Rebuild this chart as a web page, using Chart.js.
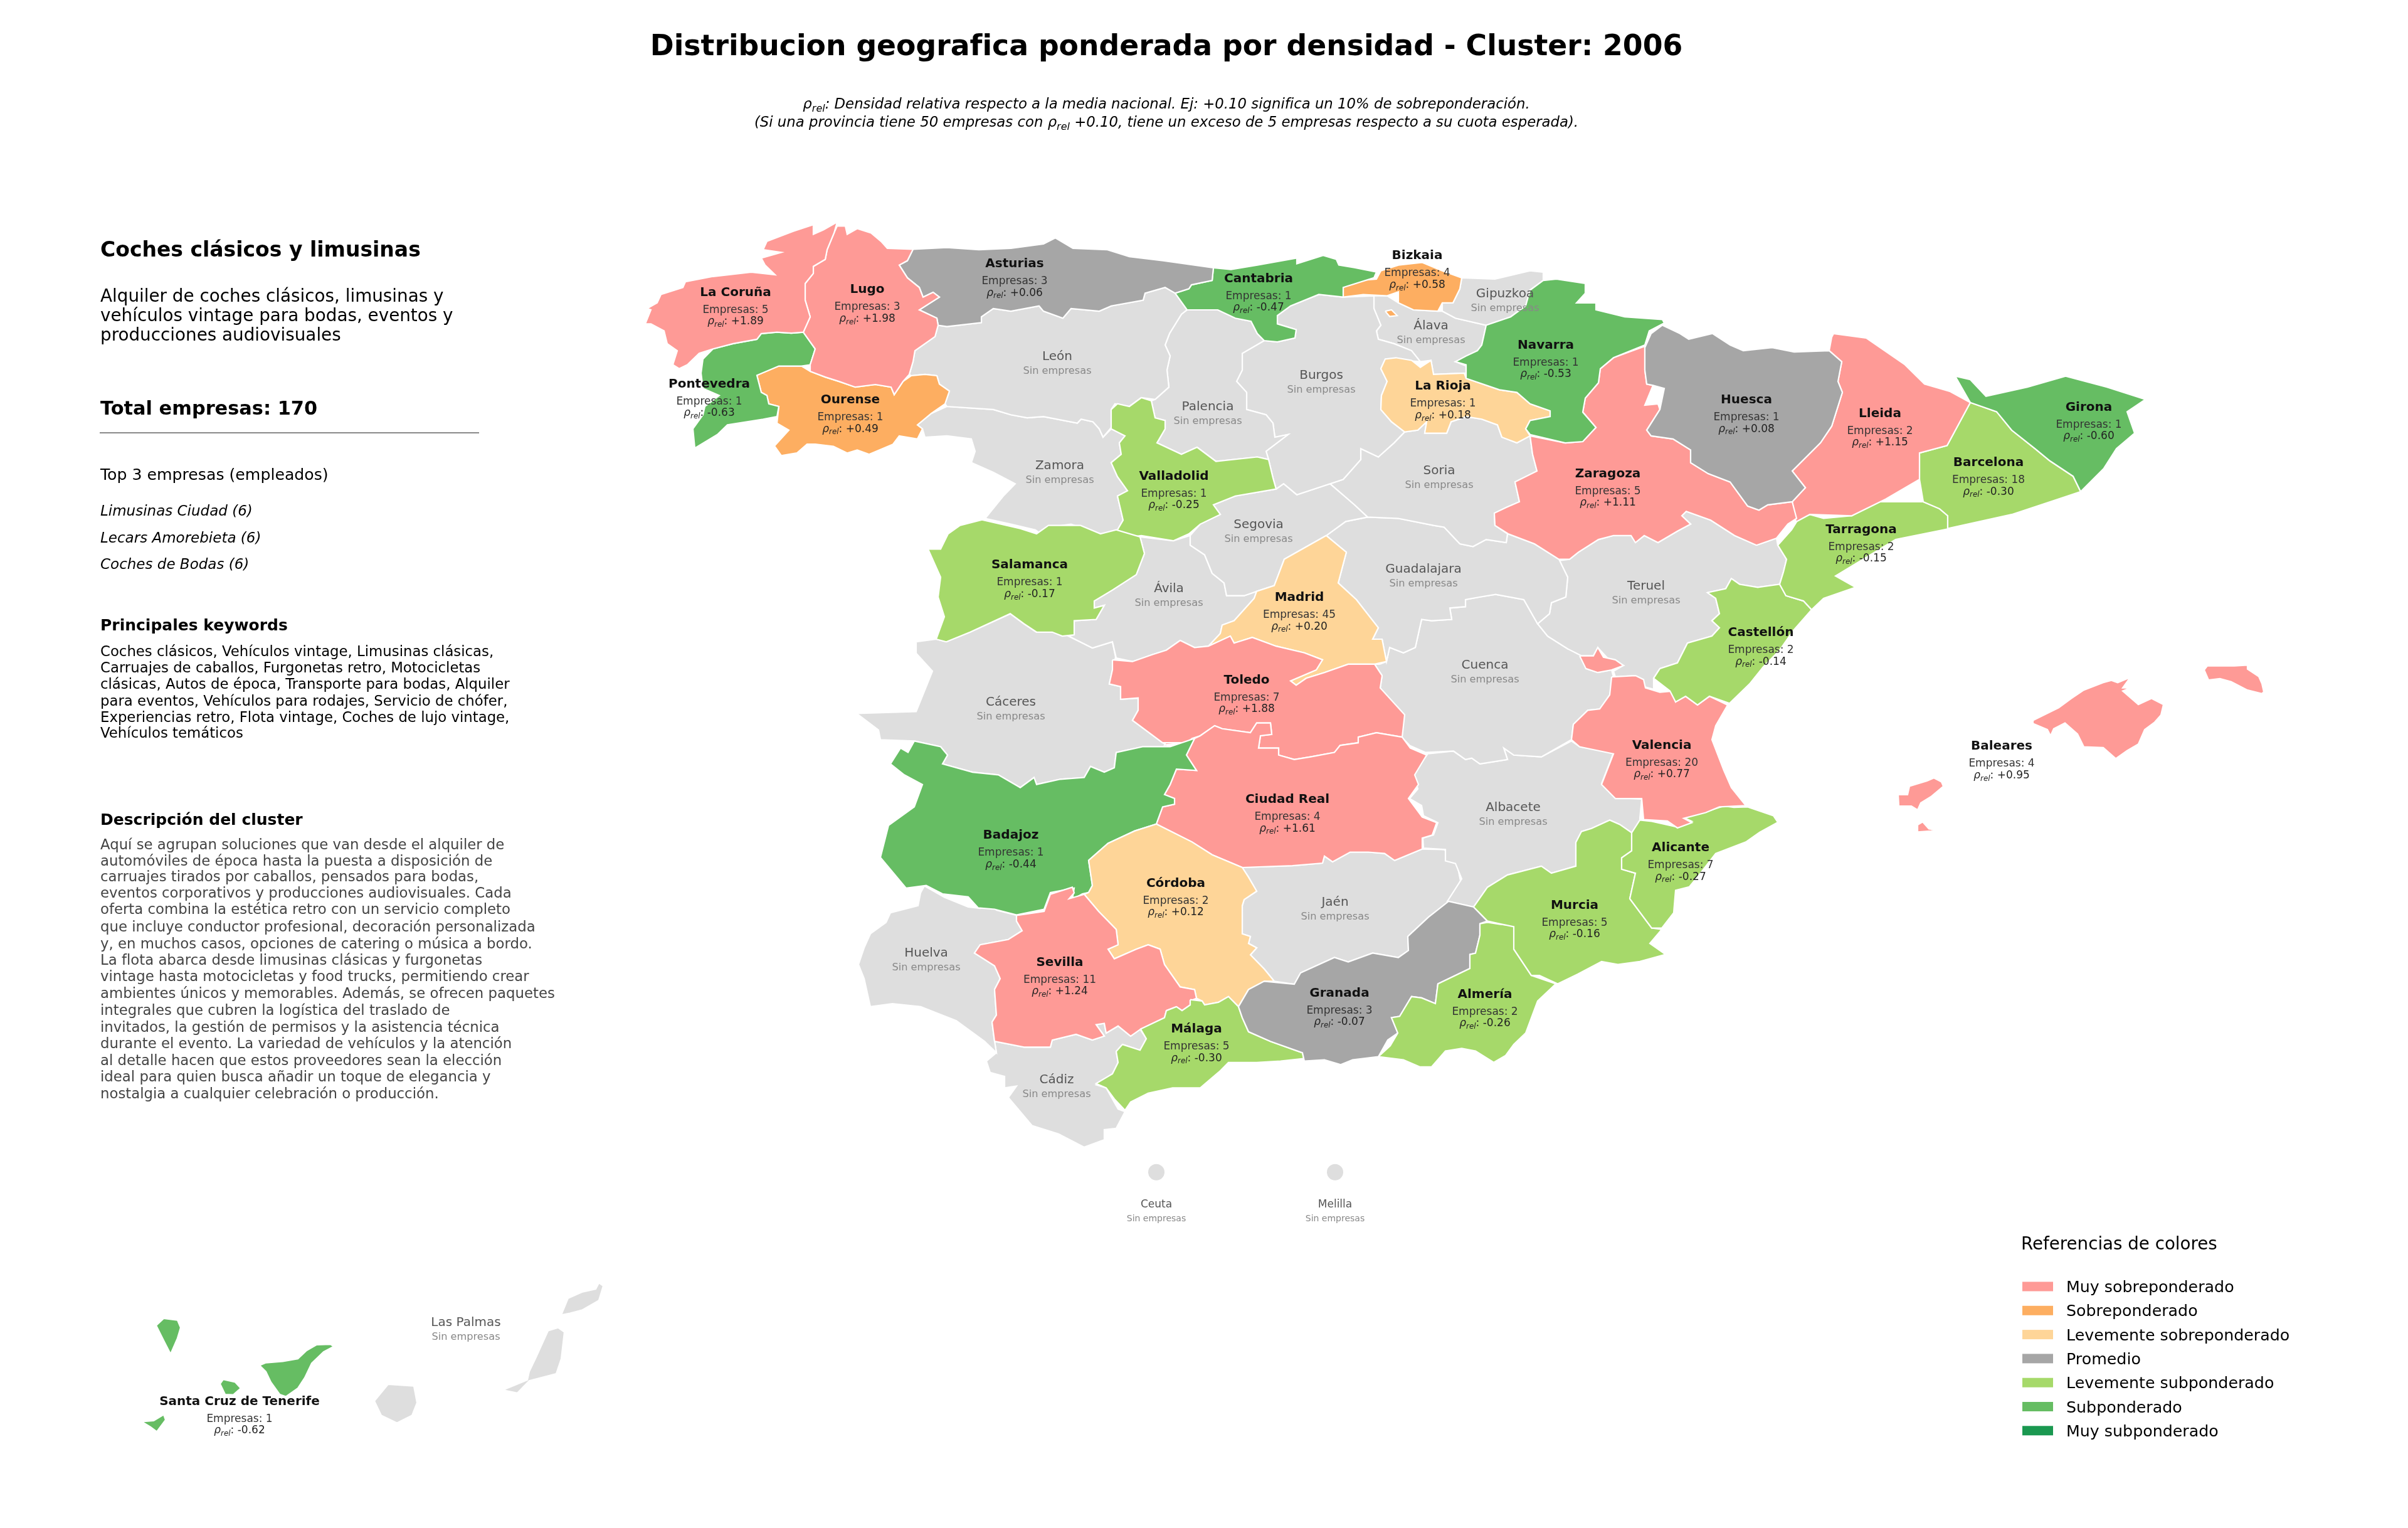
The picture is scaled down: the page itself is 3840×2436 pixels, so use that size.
<!DOCTYPE html>
<html lang="es">
<head>
<meta charset="utf-8">
<title>Distribucion geografica - Cluster 2006</title>
<script src="https://cdn.jsdelivr.net/npm/chart.js@4/dist/chart.umd.js"></script>
<style>
  html, body { margin: 0; padding: 0; background: #fff; }
  #wrap { width: 3840px; height: 2436px; }
</style>
</head>
<body>
<div id="wrap"><canvas id="map" width="3840" height="2436"></canvas></div>
<script>
// ── categories ──────────────────────────────────────────
const provinces = ["La Coruña","Lugo","Pontevedra","Ourense","Asturias","Cantabria","Bizkaia","Navarra","La Rioja","Huesca","Zaragoza","Lleida","Girona","Barcelona","Tarragona","Castellón","Valencia","Alicante","Murcia","Almería","Granada","Málaga","Sevilla","Córdoba","Badajoz","Ciudad Real","Toledo","Madrid","Salamanca","Valladolid","Baleares","Santa Cruz de Tenerife"];
const empresas  = [5,3,1,1,3,1,4,1,1,1,5,2,1,18,2,2,20,7,5,2,3,5,11,2,1,4,7,45,1,1,4,1];
const rhoRel    = ["+1.89","+1.98","-0.63","+0.49","+0.06","-0.47","+0.58","-0.53","+0.18","+0.08","+1.11","+1.15","-0.60","-0.30","-0.15","-0.14","+0.77","-0.27","-0.16","-0.26","-0.07","-0.30","+1.24","+0.12","-0.44","+1.61","+1.88","+0.20","-0.17","-0.25","+0.95","-0.62"];
const levels    = [0,0,5,1,3,5,1,5,2,3,0,0,5,4,4,4,0,4,4,4,3,4,0,2,5,0,0,2,4,4,0,5];
const emptyProvinces = ["León","Palencia","Zamora","Burgos","Soria","Gipuzkoa","Álava","Segovia","Ávila","Guadalajara","Teruel","Cuenca","Cáceres","Albacete","Jaén","Huelva","Cádiz","Las Palmas","Ceuta","Melilla"];

const legendLabels = ["Muy sobreponderado","Sobreponderado","Levemente sobreponderado","Promedio","Levemente subponderado","Subponderado","Muy subponderado"];
const legendColors = ["#fe9a96","#fdae61","#fed598","#a6a6a6","#a6d96a","#66bd63","#1a9850"];
const EMPTY_COLOR  = "#dedede";

// ── outlines, in map units ──────────────────────────────
const laCoruna = [[1335,360],[1330,385],[1319,423],[1316,445],[1297,461],[1297,477],[1284,500],[1284,538],[1292,576],[1281,611],[1262,613],[1239,611],[1214,614],[1207,627],[1169,637],[1137,649],[1115,659],[1096,685],[1083,694],[1073,685],[1080,653],[1064,637],[1059,608],[1038,592],[1029,592],[1038,560],[1032,557],[1048,544],[1054,525],[1089,509],[1093,496],[1137,484],[1198,474],[1236,480],[1220,458],[1214,442],[1246,429],[1217,423],[1223,404],[1265,381],[1297,366],[1297,388],[1313,378]];
const lugo = [[1335,369],[1330,385],[1319,423],[1316,445],[1297,461],[1297,477],[1284,500],[1284,538],[1292,576],[1281,611],[1300,649],[1292,685],[1292,700],[1316,713],[1338,723],[1364,736],[1396,730],[1421,736],[1426,753],[1440,723],[1450,707],[1456,678],[1459,653],[1491,621],[1496,595],[1494,579],[1466,560],[1498,531],[1488,520],[1472,531],[1466,509],[1447,487],[1434,458],[1447,448],[1456,422],[1415,420],[1405,404],[1389,385],[1367,375],[1351,388],[1348,369]];
const pontevedra = [[1281,611],[1300,649],[1292,685],[1278,688],[1242,688],[1207,709],[1214,748],[1223,755],[1226,774],[1242,780],[1239,803],[1217,809],[1160,822],[1144,844],[1108,875],[1105,831],[1121,799],[1124,780],[1147,755],[1121,739],[1118,704],[1121,672],[1137,649],[1169,637],[1207,627],[1214,614],[1239,611],[1262,613]];
const ourense = [[1207,709],[1242,688],[1278,688],[1292,700],[1316,713],[1338,723],[1364,736],[1396,730],[1421,736],[1426,753],[1440,723],[1453,710],[1475,707],[1494,710],[1498,729],[1514,745],[1507,774],[1485,796],[1463,822],[1471,831],[1463,854],[1434,847],[1424,866],[1386,889],[1367,879],[1351,886],[1329,871],[1300,866],[1287,866],[1271,886],[1246,892],[1235,870],[1258,834],[1239,818],[1242,780],[1226,774],[1223,755],[1214,748]];
const asturias = [[1456,422],[1510,418],[1561,423],[1612,420],[1664,410],[1683,396],[1711,420],[1766,423],[1801,439],[1855,448],[1935,464],[1933,493],[1900,503],[1896,512],[1874,522],[1858,509],[1826,522],[1823,538],[1772,551],[1753,563],[1708,557],[1695,579],[1664,563],[1657,551],[1612,563],[1584,557],[1565,576],[1565,589],[1510,598],[1496,595],[1494,579],[1466,560],[1498,531],[1488,520],[1472,531],[1466,509],[1447,487],[1434,458],[1447,448]];
const cantabria = [[1935,464],[1933,493],[1900,503],[1896,512],[1874,522],[1893,560],[1942,560],[1970,579],[1995,586],[2005,614],[2016,630],[2037,633],[2065,624],[2067,605],[2051,598],[2037,592],[2037,573],[2058,551],[2103,525],[2142,531],[2142,509],[2191,487],[2195,474],[2160,464],[2135,458],[2131,445],[2110,436],[2068,455],[2068,442],[2005,458],[1963,468]];
const bizkaia = [[2142,509],[2142,531],[2174,525],[2212,528],[2230,519],[2230,544],[2254,560],[2293,563],[2300,544],[2317,544],[2328,512],[2331,487],[2300,471],[2268,452],[2230,458],[2202,471],[2195,490],[2167,493]];
const bizkaiaEnclave = [[2209,563],[2219,560],[2228,573],[2216,575]];
const navarra = [[2461,493],[2482,490],[2528,500],[2528,522],[2514,544],[2545,544],[2545,560],[2591,576],[2651,582],[2654,590],[2630,608],[2623,640],[2573,669],[2552,694],[2549,726],[2528,761],[2524,793],[2545,828],[2524,860],[2496,863],[2440,844],[2433,831],[2440,812],[2472,803],[2472,790],[2440,774],[2419,748],[2391,742],[2338,716],[2338,704],[2338,685],[2321,678],[2338,665],[2356,653],[2363,640],[2370,595],[2409,576],[2433,551],[2440,515]];
const laRioja = [[2209,672],[2226,669],[2251,675],[2265,691],[2282,675],[2286,707],[2335,704],[2338,716],[2391,742],[2419,748],[2440,774],[2472,790],[2472,803],[2440,812],[2433,831],[2440,847],[2419,863],[2395,850],[2388,822],[2363,809],[2338,803],[2314,815],[2307,841],[2272,841],[2275,815],[2261,834],[2240,838],[2219,815],[2202,787],[2203,755],[2212,723],[2202,694]];
const huesca = [[2651,595],[2679,614],[2693,627],[2731,614],[2759,640],[2780,653],[2826,646],[2861,656],[2917,653],[2937,678],[2931,723],[2938,748],[2921,825],[2903,863],[2858,927],[2879,965],[2858,997],[2819,1004],[2805,1016],[2787,1007],[2759,952],[2724,933],[2696,908],[2696,879],[2668,854],[2633,847],[2626,834],[2647,787],[2654,739],[2636,732],[2626,729],[2623,697],[2623,646],[2633,614]];
const zaragoza = [[2623,643],[2623,697],[2626,729],[2636,732],[2623,777],[2644,774],[2647,787],[2626,834],[2633,847],[2668,854],[2696,879],[2696,908],[2724,933],[2759,952],[2787,1007],[2805,1016],[2819,1004],[2858,997],[2865,1035],[2851,1048],[2833,1080],[2801,1096],[2766,1074],[2728,1039],[2689,1019],[2682,1029],[2696,1048],[2675,1064],[2644,1090],[2622,1074],[2608,1090],[2601,1074],[2573,1074],[2549,1083],[2517,1112],[2503,1128],[2486,1128],[2447,1093],[2405,1070],[2384,1051],[2383,1023],[2402,1010],[2423,997],[2416,952],[2451,927],[2444,889],[2440,847],[2496,863],[2524,860],[2545,828],[2524,793],[2528,761],[2549,726],[2552,694],[2573,669]];
const lleida = [[2924,614],[2976,624],[3037,684],[3069,729],[3110,746],[3142,771],[3105,869],[3061,886],[3061,946],[3007,991],[2953,1029],[2886,1026],[2864,1043],[2858,997],[2879,965],[2858,927],[2903,863],[2921,825],[2938,748],[2931,723],[2937,678],[2917,653],[2921,622]];
const girona = [[3118,711],[3142,719],[3167,757],[3233,736],[3294,711],[3360,736],[3421,764],[3392,792],[3404,841],[3375,876],[3355,921],[3318,974],[3306,939],[3269,904],[3245,876],[3208,834],[3184,792],[3142,771]];
const barcelona = [[3142,771],[3184,792],[3208,834],[3245,876],[3269,904],[3306,939],[3318,974],[3282,991],[3208,1026],[3106,1058],[3106,1029],[3093,1013],[3067,997],[3061,946],[3061,886],[3105,869]];
const tarragona = [[2991,997],[3067,997],[3093,1013],[3106,1029],[3106,1059],[3023,1083],[2956,1141],[2927,1166],[2943,1179],[2959,1192],[2908,1217],[2889,1243],[2876,1223],[2848,1211],[2838,1185],[2844,1157],[2849,1128],[2835,1096],[2857,1061],[2867,1038],[2886,1026],[2908,1035],[2953,1029]];
const castellon = [[2761,1172],[2774,1185],[2803,1192],[2838,1185],[2848,1211],[2876,1223],[2889,1243],[2860,1290],[2838,1335],[2812,1373],[2790,1412],[2758,1456],[2726,1440],[2707,1460],[2688,1440],[2672,1453],[2663,1428],[2637,1399],[2647,1377],[2675,1364],[2691,1319],[2730,1303],[2742,1284],[2730,1268],[2742,1252],[2736,1217],[2723,1204],[2752,1195]];
const valencia = [[2570,1396],[2608,1393],[2621,1402],[2624,1421],[2647,1431],[2669,1428],[2672,1453],[2688,1440],[2707,1460],[2726,1440],[2755,1460],[2736,1507],[2730,1539],[2749,1609],[2761,1648],[2784,1689],[2742,1692],[2720,1705],[2685,1718],[2698,1728],[2675,1740],[2659,1724],[2621,1721],[2618,1673],[2576,1673],[2554,1641],[2573,1571],[2519,1555],[2506,1539],[2509,1504],[2532,1472],[2551,1469],[2567,1437]];
const valenciaAdemuz = [[2519,1348],[2541,1348],[2548,1329],[2557,1351],[2576,1357],[2589,1370],[2570,1380],[2548,1386],[2529,1377]];
const alicante = [[2787,1692],[2828,1712],[2835,1727],[2806,1750],[2784,1772],[2736,1798],[2710,1846],[2694,1874],[2672,1882],[2669,1933],[2650,1968],[2634,1968],[2599,1901],[2608,1843],[2586,1834],[2586,1808],[2602,1792],[2602,1751],[2615,1722],[2634,1725],[2675,1738],[2698,1725],[2685,1716],[2720,1703],[2749,1690],[2765,1693]];
const murcia = [[2350,1920],[2372,1875],[2404,1847],[2458,1827],[2474,1843],[2513,1827],[2513,1773],[2522,1748],[2538,1741],[2567,1722],[2583,1732],[2602,1751],[2602,1792],[2586,1808],[2586,1834],[2608,1843],[2599,1901],[2634,1968],[2650,1971],[2631,2003],[2656,2028],[2615,2044],[2580,2051],[2554,2044],[2516,2073],[2484,2095],[2455,2076],[2442,2076],[2414,2016],[2414,1965],[2391,1958],[2372,1952]];
const almeria = [[2360,1958],[2372,1955],[2391,1959],[2417,1963],[2414,2016],[2442,2076],[2481,2095],[2452,2134],[2433,2207],[2414,2233],[2401,2258],[2382,2274],[2353,2248],[2331,2242],[2305,2248],[2283,2284],[2264,2284],[2238,2268],[2198,2261],[2217,2236],[2229,2207],[2219,2172],[2232,2169],[2251,2124],[2267,2127],[2289,2140],[2293,2095],[2344,2060],[2344,2028],[2353,2025],[2360,1984]];
const granada = [[1975,2147],[1991,2108],[2016,2089],[2064,2096],[2074,2070],[2128,2035],[2150,2045],[2189,2025],[2230,2035],[2246,2019],[2245,1987],[2278,1943],[2310,1907],[2350,1920],[2372,1952],[2360,1958],[2360,1984],[2353,2025],[2344,2028],[2344,2060],[2293,2095],[2289,2140],[2267,2127],[2251,2124],[2232,2169],[2219,2172],[2229,2207],[2213,2223],[2198,2261],[2157,2268],[2138,2279],[2112,2268],[2080,2271],[2077,2252],[2026,2226],[1991,2204],[1981,2172]];
const malaga = [[1898,2131],[1917,2134],[1921,2143],[1943,2137],[1959,2124],[1975,2147],[1981,2172],[1991,2204],[2026,2226],[2077,2252],[2079,2265],[2042,2271],[2004,2274],[1959,2274],[1946,2293],[1914,2332],[1870,2332],[1831,2344],[1803,2364],[1794,2383],[1777,2357],[1764,2332],[1748,2322],[1774,2300],[1783,2274],[1780,2249],[1790,2233],[1818,2246],[1828,2220],[1819,2198],[1857,2172],[1860,2156],[1876,2147],[1885,2156],[1898,2143]];
const sevilla = [[1621,1939],[1665,1930],[1675,1891],[1710,1875],[1713,1888],[1705,1901],[1729,1891],[1752,1930],[1780,1971],[1783,2006],[1767,2016],[1777,2038],[1812,2016],[1831,2006],[1850,2016],[1857,2051],[1882,2102],[1905,2108],[1908,2128],[1898,2134],[1898,2143],[1885,2156],[1876,2147],[1860,2156],[1857,2172],[1819,2198],[1803,2214],[1783,2191],[1764,2207],[1761,2185],[1748,2188],[1761,2214],[1742,2223],[1716,2210],[1678,2223],[1675,2239],[1633,2239],[1586,2226],[1582,2182],[1589,2166],[1586,2108],[1595,2083],[1586,2054],[1554,2025],[1563,2006],[1608,1994],[1630,1974],[1621,1952]];
const cordoba = [[1809,1747],[1844,1731],[1901,1772],[1933,1801],[1981,1830],[1991,1852],[2004,1884],[1984,1903],[1981,1917],[1981,1981],[1994,1987],[1991,2003],[2004,2013],[1994,2029],[2016,2061],[2032,2089],[2016,2089],[1991,2108],[1975,2147],[1959,2124],[1943,2137],[1921,2143],[1917,2134],[1908,2128],[1905,2108],[1882,2102],[1857,2051],[1850,2016],[1831,2006],[1812,2016],[1777,2038],[1767,2016],[1783,2006],[1780,1971],[1752,1930],[1729,1891],[1736,1887],[1742,1871],[1736,1814],[1767,1775]];
const badajoz = [[1458,1542],[1500,1555],[1511,1574],[1503,1594],[1551,1613],[1592,1619],[1627,1648],[1649,1625],[1653,1641],[1691,1629],[1729,1625],[1739,1600],[1761,1613],[1777,1603],[1780,1568],[1822,1555],[1866,1555],[1905,1536],[1892,1574],[1908,1609],[1876,1606],[1866,1641],[1857,1664],[1873,1673],[1873,1686],[1854,1692],[1844,1731],[1809,1747],[1767,1775],[1736,1814],[1742,1871],[1736,1887],[1726,1890],[1710,1903],[1713,1877],[1675,1887],[1665,1925],[1621,1938],[1586,1925],[1560,1922],[1544,1897],[1503,1890],[1477,1871],[1445,1877],[1404,1807],[1417,1734],[1458,1692],[1471,1641],[1442,1619],[1420,1594],[1436,1558],[1448,1568]];
const ciudadReal = [[1905,1536],[1914,1530],[1937,1507],[1949,1514],[1994,1523],[2004,1501],[2026,1501],[2028,1527],[2010,1530],[2007,1558],[2039,1558],[2039,1574],[2064,1584],[2090,1578],[2128,1568],[2137,1552],[2166,1546],[2166,1533],[2195,1523],[2236,1533],[2249,1558],[2275,1574],[2256,1619],[2262,1641],[2246,1673],[2268,1715],[2291,1728],[2284,1756],[2268,1763],[2268,1788],[2224,1814],[2208,1798],[2182,1795],[2153,1795],[2125,1817],[2112,1804],[2109,1820],[2061,1826],[1981,1830],[1933,1801],[1901,1772],[1844,1731],[1854,1692],[1873,1686],[1873,1673],[1857,1664],[1866,1641],[1876,1606],[1908,1609],[1892,1574]];
const toledo = [[1774,1357],[1806,1361],[1838,1345],[1860,1335],[1882,1313],[1905,1329],[1927,1326],[1962,1303],[1968,1319],[1997,1306],[2035,1326],[2080,1341],[2109,1357],[2099,1380],[2058,1405],[2067,1415],[2083,1399],[2112,1386],[2150,1367],[2192,1367],[2204,1393],[2201,1421],[2240,1482],[2236,1533],[2195,1523],[2166,1533],[2166,1546],[2137,1552],[2128,1568],[2090,1578],[2064,1584],[2039,1574],[2039,1558],[2007,1558],[2010,1530],[2028,1527],[2026,1501],[2004,1501],[1994,1523],[1949,1514],[1937,1507],[1914,1530],[1901,1536],[1892,1546],[1854,1546],[1806,1495],[1815,1472],[1815,1444],[1787,1447],[1787,1418],[1769,1412],[1774,1380]];
const toledoEnclave = [[1870,1507],[1892,1520],[1889,1546],[1857,1551]];
const madrid = [[2115,1074],[2147,1112],[2134,1182],[2163,1220],[2198,1284],[2189,1310],[2204,1310],[2211,1361],[2192,1367],[2150,1367],[2112,1386],[2083,1399],[2067,1415],[2058,1405],[2099,1380],[2109,1357],[2080,1341],[2035,1326],[1997,1306],[1968,1319],[1962,1303],[1927,1326],[1946,1297],[1949,1278],[1968,1268],[2000,1217],[2004,1201],[2032,1188],[2048,1128]];
const salamanca = [[1566,1038],[1627,1058],[1653,1070],[1672,1051],[1723,1051],[1755,1070],[1780,1061],[1818,1077],[1825,1115],[1812,1163],[1774,1198],[1745,1223],[1745,1239],[1761,1233],[1748,1265],[1713,1268],[1713,1300],[1694,1303],[1678,1294],[1653,1294],[1633,1275],[1611,1252],[1547,1294],[1509,1316],[1493,1310],[1506,1259],[1496,1214],[1500,1169],[1480,1105],[1500,1105],[1512,1070],[1531,1051]];
const valladolid = [[1772,787],[1782,774],[1801,780],[1820,760],[1836,767],[1842,806],[1858,812],[1858,831],[1845,863],[1884,889],[1909,873],[1939,905],[2005,895],[2023,901],[2030,943],[2035,968],[1970,984],[1935,1004],[1946,1026],[1914,1048],[1896,1070],[1871,1086],[1820,1074],[1788,1080],[1782,1061],[1791,1039],[1782,984],[1798,972],[1782,940],[1772,908],[1788,889],[1785,863],[1794,847],[1772,831]];
const mallorca = [[3242,1495],[3283,1466],[3303,1445],[3323,1426],[3354,1409],[3367,1404],[3377,1409],[3397,1397],[3385,1421],[3397,1421],[3385,1428],[3410,1459],[3431,1445],[3450,1459],[3446,1483],[3436,1499],[3420,1516],[3410,1549],[3392,1564],[3374,1582],[3354,1557],[3323,1555],[3313,1526],[3293,1501],[3275,1514],[3270,1530],[3265,1516],[3242,1502]];
const menorca = [[3515,1380],[3520,1371],[3563,1371],[3584,1369],[3584,1378],[3602,1395],[3607,1411],[3610,1430],[3607,1434],[3584,1426],[3558,1407],[3540,1400],[3522,1403]];
const ibiza = [[3027,1664],[3042,1664],[3045,1645],[3073,1633],[3084,1626],[3096,1635],[3099,1645],[3079,1669],[3063,1683],[3058,1699],[3048,1690],[3028,1690]];
const formentera = [[3058,1733],[3066,1726],[3076,1742],[3091,1745],[3079,1747],[3058,1749]];
const laPalma = [[249,2873],[261,2857],[283,2861],[288,2878],[283,2902],[272,2938],[261,2907]];
const tenerife = [[414,2964],[424,2958],[451,2955],[475,2949],[489,2930],[505,2917],[527,2916],[532,2921],[516,2933],[497,2959],[486,2992],[475,3016],[456,3035],[446,3030],[432,3002],[424,2978]];
const laGomera = [[351,3006],[356,2996],[375,3002],[384,3016],[372,3031],[359,3030]];
const elHierro = [[226,3092],[245,3090],[261,3076],[264,3088],[250,3115],[240,3104]];

const leon = [[1496,595],[1510,598],[1565,589],[1565,576],[1584,557],[1612,563],[1657,551],[1664,563],[1695,579],[1708,557],[1753,563],[1772,551],[1823,538],[1826,522],[1858,509],[1874,522],[1893,560],[1884,570],[1865,614],[1858,640],[1866,665],[1861,697],[1864,736],[1842,764],[1820,760],[1801,780],[1778,774],[1772,787],[1772,828],[1759,850],[1753,831],[1743,815],[1724,809],[1718,818],[1664,803],[1638,806],[1612,799],[1584,787],[1510,780],[1507,774],[1514,745],[1498,729],[1494,710],[1475,707],[1453,710],[1450,707],[1456,678],[1459,653],[1491,621]];
const palencia = [[1893,560],[1942,560],[1970,579],[1995,586],[2005,614],[2016,630],[1981,659],[1981,697],[1972,723],[1988,748],[1988,787],[2019,799],[2030,818],[2033,850],[2054,844],[2019,882],[2023,901],[2005,895],[1939,905],[1909,873],[1884,889],[1845,863],[1858,831],[1858,812],[1842,806],[1836,767],[1842,764],[1864,736],[1861,697],[1866,665],[1858,640],[1865,614],[1884,570]];
const zamora = [[1510,780],[1485,796],[1463,822],[1471,831],[1475,850],[1510,847],[1549,854],[1555,882],[1549,908],[1584,930],[1619,956],[1600,984],[1587,1007],[1571,1035],[1612,1048],[1651,1061],[1664,1074],[1673,1055],[1708,1048],[1753,1071],[1788,1080],[1782,1061],[1791,1039],[1782,984],[1798,972],[1782,940],[1772,908],[1788,889],[1785,863],[1794,847],[1772,831],[1759,850],[1753,831],[1743,815],[1724,809],[1718,818],[1664,803],[1638,806],[1612,799],[1584,787]];
const burgos = [[2016,630],[2037,633],[2065,624],[2067,605],[2051,598],[2037,592],[2037,573],[2058,551],[2103,525],[2142,531],[2191,528],[2191,557],[2202,595],[2195,608],[2198,627],[2223,637],[2251,653],[2265,678],[2209,672],[2202,694],[2212,723],[2203,755],[2202,787],[2219,815],[2240,838],[2223,863],[2198,895],[2170,876],[2170,901],[2142,946],[2121,956],[2068,981],[2047,956],[2035,968],[2030,943],[2023,901],[2019,882],[2054,844],[2033,850],[2030,818],[2019,799],[1988,787],[1988,748],[1972,723],[1981,697],[1981,659]];
const burgosTrevino = [[2170,602],[2181,586],[2198,589],[2195,611],[2181,614]];
const soria = [[2240,838],[2261,834],[2275,815],[2272,841],[2307,841],[2314,815],[2338,803],[2363,809],[2388,822],[2395,850],[2419,863],[2440,847],[2444,889],[2451,927],[2416,952],[2423,997],[2402,1010],[2383,1023],[2384,1051],[2404,1070],[2402,1090],[2370,1083],[2349,1099],[2328,1093],[2303,1055],[2286,1051],[2230,1035],[2181,1032],[2160,1004],[2121,956],[2142,946],[2170,901],[2170,876],[2198,895],[2223,863]];
const gipuzkoa = [[2331,487],[2384,490],[2440,471],[2461,474],[2461,493],[2440,515],[2433,551],[2409,576],[2370,595],[2321,579],[2300,563],[2300,544],[2317,544],[2328,512]];
const alava = [[2191,528],[2212,528],[2230,544],[2254,560],[2293,563],[2300,563],[2321,579],[2370,595],[2363,640],[2356,653],[2363,665],[2338,669],[2321,678],[2338,688],[2338,704],[2286,707],[2282,675],[2265,678],[2251,653],[2223,637],[2198,627],[2195,608],[2202,595],[2191,557]];
const segovia = [[2035,968],[2047,956],[2068,981],[2121,956],[2160,1004],[2181,1032],[2146,1042],[2115,1074],[2048,1128],[2032,1188],[2004,1201],[1984,1211],[1956,1211],[1952,1182],[1933,1160],[1921,1118],[1898,1096],[1898,1074],[1914,1048],[1946,1026],[1935,1004],[1970,984]];
const avila = [[1818,1077],[1871,1086],[1898,1074],[1898,1096],[1921,1118],[1933,1160],[1952,1182],[1956,1211],[1984,1211],[2004,1201],[2000,1217],[1968,1268],[1949,1278],[1946,1297],[1927,1326],[1905,1329],[1882,1313],[1860,1335],[1838,1345],[1806,1361],[1780,1353],[1774,1316],[1742,1330],[1704,1303],[1713,1300],[1713,1268],[1748,1265],[1761,1233],[1745,1239],[1745,1223],[1774,1198],[1812,1163],[1825,1115]];
const guadalajara = [[2181,1032],[2230,1035],[2286,1051],[2303,1055],[2328,1093],[2349,1099],[2370,1083],[2402,1090],[2404,1070],[2447,1093],[2486,1128],[2500,1169],[2497,1214],[2474,1227],[2471,1252],[2452,1275],[2430,1220],[2385,1208],[2360,1214],[2337,1220],[2337,1236],[2312,1239],[2315,1265],[2283,1268],[2267,1265],[2257,1329],[2238,1341],[2216,1329],[2211,1361],[2204,1310],[2189,1310],[2198,1284],[2163,1220],[2134,1182],[2147,1112],[2115,1074],[2146,1042]];
const teruel = [[2503,1128],[2517,1112],[2549,1083],[2573,1074],[2601,1074],[2608,1090],[2622,1074],[2644,1090],[2675,1064],[2696,1048],[2682,1029],[2689,1019],[2728,1039],[2766,1074],[2801,1096],[2833,1080],[2835,1096],[2849,1128],[2844,1157],[2838,1185],[2803,1192],[2774,1185],[2761,1172],[2752,1195],[2723,1204],[2736,1217],[2742,1252],[2730,1268],[2742,1284],[2730,1303],[2691,1319],[2675,1364],[2647,1377],[2637,1399],[2637,1424],[2621,1418],[2621,1402],[2608,1393],[2576,1396],[2573,1383],[2589,1370],[2564,1354],[2548,1329],[2541,1348],[2522,1348],[2500,1332],[2468,1303],[2452,1275],[2471,1252],[2474,1227],[2497,1214],[2500,1169],[2487,1131]];
const cuenca = [[2200,1367],[2211,1361],[2216,1329],[2238,1341],[2257,1329],[2267,1265],[2283,1268],[2315,1265],[2312,1239],[2337,1236],[2337,1220],[2360,1214],[2385,1208],[2430,1220],[2452,1275],[2468,1303],[2500,1332],[2519,1335],[2522,1348],[2529,1377],[2548,1386],[2570,1380],[2573,1396],[2567,1437],[2551,1469],[2532,1472],[2509,1504],[2506,1539],[2458,1578],[2414,1574],[2398,1558],[2404,1584],[2360,1594],[2347,1581],[2337,1584],[2318,1565],[2273,1568],[2248,1552],[2235,1533],[2238,1482],[2201,1421],[2204,1393],[2192,1367]];
const caceres = [[1461,1316],[1493,1310],[1509,1316],[1547,1294],[1611,1252],[1633,1275],[1653,1294],[1694,1294],[1704,1303],[1742,1330],[1774,1316],[1779,1351],[1774,1380],[1769,1412],[1787,1418],[1787,1447],[1815,1444],[1815,1472],[1806,1495],[1854,1546],[1866,1555],[1822,1555],[1780,1568],[1777,1603],[1761,1613],[1739,1600],[1729,1625],[1691,1629],[1653,1641],[1649,1625],[1627,1648],[1592,1619],[1551,1613],[1503,1594],[1511,1574],[1500,1555],[1458,1542],[1404,1539],[1401,1517],[1366,1479],[1461,1475],[1487,1383],[1461,1342]];
const albacete = [[2270,1786],[2305,1789],[2305,1815],[2321,1821],[2331,1856],[2308,1907],[2350,1920],[2372,1875],[2404,1847],[2458,1827],[2474,1843],[2513,1827],[2513,1773],[2522,1748],[2538,1741],[2567,1722],[2583,1732],[2602,1751],[2618,1738],[2615,1719],[2618,1674],[2576,1671],[2554,1639],[2573,1569],[2519,1555],[2506,1542],[2458,1578],[2414,1574],[2398,1558],[2404,1584],[2360,1594],[2347,1581],[2337,1584],[2318,1565],[2277,1571],[2254,1616],[2261,1651],[2248,1673],[2267,1689],[2270,1712],[2293,1728],[2286,1756],[2269,1763]];
const jaen = [[1981,1830],[2061,1826],[2109,1820],[2112,1804],[2125,1817],[2153,1795],[2182,1795],[2208,1798],[2224,1814],[2268,1788],[2303,1789],[2323,1818],[2329,1860],[2313,1907],[2278,1943],[2245,1987],[2246,2019],[2230,2035],[2189,2025],[2150,2045],[2128,2035],[2074,2070],[2064,2096],[2032,2089],[2016,2061],[1994,2029],[2004,2013],[1991,2003],[1994,1987],[1981,1981],[1981,1917],[1984,1903],[2004,1884],[1991,1852]];
const huelva = [[1474,1872],[1506,1898],[1544,1920],[1563,1923],[1576,1911],[1589,1927],[1621,1939],[1621,1952],[1630,1974],[1608,1994],[1563,2006],[1554,2025],[1586,2054],[1595,2083],[1586,2108],[1589,2166],[1582,2182],[1586,2226],[1589,2252],[1570,2226],[1525,2179],[1468,2147],[1423,2140],[1388,2147],[1378,2083],[1369,2051],[1378,2013],[1388,1981],[1413,1955],[1420,1933],[1464,1917],[1468,1888]];
const cadiz = [[1586,2226],[1633,2239],[1675,2239],[1678,2223],[1716,2210],[1742,2223],[1761,2214],[1748,2188],[1761,2185],[1764,2207],[1783,2191],[1803,2214],[1818,2198],[1828,2220],[1818,2246],[1790,2233],[1780,2249],[1783,2274],[1774,2300],[1748,2325],[1764,2332],[1783,2380],[1794,2386],[1780,2424],[1761,2427],[1761,2450],[1729,2467],[1688,2437],[1646,2418],[1608,2354],[1621,2328],[1602,2332],[1602,2306],[1579,2297],[1573,2271],[1589,2252]];
const granCanaria = [[597,3045],[619,3007],[660,3011],[665,3049],[657,3078],[633,3095],[608,3078]];
const fuerteventura = [[874,2885],[890,2878],[900,2888],[895,2949],[887,2983],[844,2999],[825,3027],[802,3020],[841,2997],[844,2978],[855,2945]];
const lanzarote = [[895,2849],[906,2811],[928,2797],[950,2790],[955,2776],[962,2783],[955,2816],[928,2838],[909,2845]];
const ceutaPoint = [[1844,2524]];
const melillaPoint = [[2129,2524]];

// outlines per province, same order as the name lists above
const provinceShapes = [[laCoruna],[lugo],[pontevedra],[ourense],[asturias],[cantabria],[bizkaia,bizkaiaEnclave],[navarra],[laRioja],[huesca],[zaragoza],[lleida],[girona],[barcelona],[tarragona],[castellon],[valencia,valenciaAdemuz],[alicante],[murcia],[almeria],[granada],[malaga],[sevilla],[cordoba],[badajoz],[ciudadReal],[toledo,toledoEnclave],[madrid],[salamanca],[valladolid],[mallorca,menorca,ibiza,formentera],[laPalma,tenerife,laGomera,elHierro]];
const emptyShapes = [[leon],[palencia],[zamora],[burgos,burgosTrevino],[soria],[gipuzkoa],[alava],[segovia],[avila],[guadalajara],[teruel],[cuenca],[caceres],[albacete],[jaen],[huelva],[cadiz],[granCanaria,fuerteventura,lanzarote]];

// ── label anchors, in map units ─────────────────────────
const labelAnchors = [[1173,558],[1383,552],[1131,767],[1356,803],[1618,493],[2007,527],[2260,475],[2465,678],[2301,772],[2785,803],[2564,971],[2998,834],[3331,820],[3171,946],[2968,1098],[2808,1333],[2650,1590],[2680,1823],[2511,1954],[2368,2157],[2136,2154],[1908,2236],[1690,2084],[1875,1904],[1612,1795],[2053,1713],[1988,1441],[2072,1253],[1642,1179],[1872,977],[3192,1592],[382,3084]];
const emptyAnchors = [[1686,665],[1926,778],[1690,913],[2107,707],[2295,924],[2400,522],[2282,594],[2007,1047],[1864,1193],[2270,1149],[2625,1187],[2368,1367],[1612,1451],[2413,1691],[2129,1907],[1477,2023],[1685,2311],[743,2865],[1844,2595],[2129,2595]];

// ── side panel text ─────────────────────────────────────
const FONT = '"DejaVu Sans"';
const panelLines = [
  ["bold 33px", "#000", 409, "Coches clásicos y limusinas"],
  ["27.8px", "#000", 481, "Alquiler de coches clásicos, limusinas y"],
  ["27.8px", "#000", 512, "vehículos vintage para bodas, eventos y"],
  ["27.8px", "#000", 543, "producciones audiovisuales"],
  ["bold 30.4px", "#000", 661, "Total empresas: 170"],
  ["25.2px", "#000", 765, "Top 3 empresas (empleados)"],
  ["italic 23px", "#000", 822, "Limusinas Ciudad (6)"],
  ["italic 23px", "#000", 865, "Lecars Amorebieta (6)"],
  ["italic 23px", "#000", 907, "Coches de Bodas (6)"],
  ["bold 25px", "#000", 1005, "Principales keywords"],
  ["22.8px", "#000", 1046, "Coches clásicos, Vehículos vintage, Limusinas clásicas,"],
  ["22.8px", "#000", 1072, "Carruajes de caballos, Furgonetas retro, Motocicletas"],
  ["22.8px", "#000", 1098, "clásicas, Autos de época, Transporte para bodas, Alquiler"],
  ["22.8px", "#000", 1125, "para eventos, Vehículos para rodajes, Servicio de chófer,"],
  ["22.8px", "#000", 1151, "Experiencias retro, Flota vintage, Coches de lujo vintage,"],
  ["22.8px", "#000", 1176, "Vehículos temáticos"],
  ["bold 25px", "#000", 1315, "Descripción del cluster"],
  ["22.8px", "#444", 1354, "Aquí se agrupan soluciones que van desde el alquiler de"],
  ["22.8px", "#444", 1380, "automóviles de época hasta la puesta a disposición de"],
  ["22.8px", "#444", 1405, "carruajes tirados por caballos, pensados para bodas,"],
  ["22.8px", "#444", 1431, "eventos corporativos y producciones audiovisuales. Cada"],
  ["22.8px", "#444", 1457, "oferta combina la estética retro con un servicio completo"],
  ["22.8px", "#444", 1485, "que incluye conductor profesional, decoración personalizada"],
  ["22.8px", "#444", 1512, "y, en muchos casos, opciones de catering o música a bordo."],
  ["22.8px", "#444", 1538, "La flota abarca desde limusinas clásicas y furgonetas"],
  ["22.8px", "#444", 1564, "vintage hasta motocicletas y food trucks, permitiendo crear"],
  ["22.8px", "#444", 1591, "ambientes únicos y memorables. Además, se ofrecen paquetes"],
  ["22.8px", "#444", 1618, "integrales que cubren la logística del traslado de"],
  ["22.8px", "#444", 1645, "invitados, la gestión de permisos y la asistencia técnica"],
  ["22.8px", "#444", 1671, "durante el evento. La variedad de vehículos y la atención"],
  ["22.8px", "#444", 1698, "al detalle hacen que estos proveedores sean la elección"],
  ["22.8px", "#444", 1724, "ideal para quien busca añadir un toque de elegancia y"],
  ["22.8px", "#444", 1751, "nostalgia a cualquier celebración o producción."],
];

// ── datasets ────────────────────────────────────────────
function shapeDataset(outline, color) {
  const closed = outline.concat([outline[0]]);
  return {
    data: closed.map(([x, y]) => ({ x, y })),
    borderColor: "#fff",
    borderWidth: 2.2,
    backgroundColor: color,
    fill: "shape",
    pointRadius: 0,
    tension: 0,
  };
}

const datasets = [];
provinceShapes.forEach((parts, i) => {
  parts.forEach(part => datasets.push(shapeDataset(part, legendColors[levels[i]])));
});
emptyShapes.forEach(parts => {
  parts.forEach(part => datasets.push(shapeDataset(part, EMPTY_COLOR)));
});
[ceutaPoint, melillaPoint].forEach(p => {
  datasets.push({
    data: p.map(([x, y]) => ({ x, y })),
    showLine: false,
    pointRadius: 13,
    pointBorderWidth: 0,
    pointBackgroundColor: EMPTY_COLOR,
  });
});

// ── text helpers ────────────────────────────────────────
function centered(ctx, text, x, y, font, color) {
  ctx.font = font + " " + FONT;
  ctx.fillStyle = color;
  ctx.textAlign = "center";
  ctx.fillText(text, x, y);
}

// rho_rel + suffix, centred on x
function rhoText(ctx, suffix, x, y, size, color, italicAll) {
  const style = italicAll ? "italic " : "";
  const fRho = `italic ${size}px ${FONT}`;
  const fSub = `italic ${size * 0.7}px ${FONT}`;
  const fTxt = `${style}${size}px ${FONT}`;
  ctx.font = fRho; const w1 = ctx.measureText("ρ").width;
  ctx.font = fSub; const w2 = ctx.measureText("rel").width;
  ctx.font = fTxt; const w3 = ctx.measureText(suffix).width;
  let cx = x - (w1 + w2 + w3) / 2;
  ctx.fillStyle = color;
  ctx.textAlign = "left";
  ctx.font = fRho; ctx.fillText("ρ", cx, y); cx += w1;
  ctx.font = fSub; ctx.fillText("rel", cx, y + size * 0.22); cx += w2;
  ctx.font = fTxt; ctx.fillText(suffix, cx, y);
  return cx + w3;
}

const textLayer = {
  id: "textLayer",
  afterDatasetsDraw(chart) {
    const { ctx, scales: { x, y } } = chart;
    ctx.save();
    ctx.textBaseline = "alphabetic";

    // title block
    centered(ctx, "Distribucion geografica ponderada por densidad - Cluster: 2006", 1860, 88, "bold 45.7px", "#000");
    rhoText(ctx, ": Densidad relativa respecto a la media nacional. Ej: +0.10 significa un 10% de sobreponderación.", 1860, 173, 22.8, "#000", true);
    // second line has rho in the middle
    const subFont = `italic 22.8px ${FONT}`;
    const subSmall = `italic 16px ${FONT}`;
    const before = "(Si una provincia tiene 50 empresas con ";
    const after = " +0.10, tiene un exceso de 5 empresas respecto a su cuota esperada).";
    ctx.font = subFont;
    const wb = ctx.measureText(before).width, wa = ctx.measureText(after).width, wr = ctx.measureText("ρ").width;
    ctx.font = subSmall;
    const ws = ctx.measureText("rel").width;
    const sx = 1860 - (wb + wa + wr + ws) / 2;
    ctx.textAlign = "left"; ctx.fillStyle = "#000";
    ctx.font = subFont; ctx.fillText(before + "ρ", sx, 202);
    ctx.font = subSmall; ctx.fillText("rel", sx + wb + wr, 207);
    ctx.font = subFont; ctx.fillText(after, sx + wb + wr + ws, 202);

    // side panel
    ctx.textAlign = "left";
    panelLines.forEach(([font, color, py, text]) => {
      ctx.font = font + " " + FONT;
      ctx.fillStyle = color;
      ctx.fillText(text, 160, py);
    });
    ctx.strokeStyle = "#888";
    ctx.lineWidth = 2;
    ctx.beginPath(); ctx.moveTo(159, 690); ctx.lineTo(764, 690); ctx.stroke();

    // province labels
    provinces.forEach((name, i) => {
      const px = x.getPixelForValue(labelAnchors[i][0]);
      const py = y.getPixelForValue(labelAnchors[i][1]);
      centered(ctx, name, px, py - 21, "bold 20px", "#111");
      centered(ctx, "Empresas: " + empresas[i], px, py + 6, "17px", "#333");
      rhoText(ctx, ": " + rhoRel[i], px, py + 24.5, 17, "#222", false);
    });
    emptyProvinces.forEach((name, i) => {
      const small = name === "Ceuta" || name === "Melilla";
      const px = x.getPixelForValue(emptyAnchors[i][0]);
      const py = y.getPixelForValue(emptyAnchors[i][1]);
      centered(ctx, name, px, py + 7, small ? "17px" : "20px", "#555");
      centered(ctx, "Sin empresas", px, py + 29, small ? "14px" : "16.2px", "#888");
    });

    // colour key
    ctx.textAlign = "left";
    ctx.fillStyle = "#000";
    ctx.font = "27.7px " + FONT;
    ctx.fillText("Referencias de colores", 3223, 1992);
    legendLabels.forEach((label, i) => {
      const ly = 2051 + 38.3 * i;
      ctx.fillStyle = legendColors[i];
      ctx.fillRect(3225, ly - 7.5, 49, 15);
      ctx.fillStyle = "#000";
      ctx.font = "25.3px " + FONT;
      ctx.fillText(label, 3295, ly + 9);
    });
    ctx.restore();
  },
};

new Chart(document.getElementById("map"), {
  type: "line",
  data: { datasets },
  plugins: [textLayer],
  options: {
    responsive: false,
    devicePixelRatio: 1,
    animation: false,
    events: [],
    layout: { padding: 0, autoPadding: false },
    plugins: { legend: { display: false }, tooltip: { enabled: false }, title: { display: false } },
    scales: {
      x: { type: "linear", min: 0, max: 3840, display: false },
      y: { type: "linear", min: -145.7, max: 3334.3, reverse: true, display: false },
    },
  },
});
</script>
</body>
</html>
